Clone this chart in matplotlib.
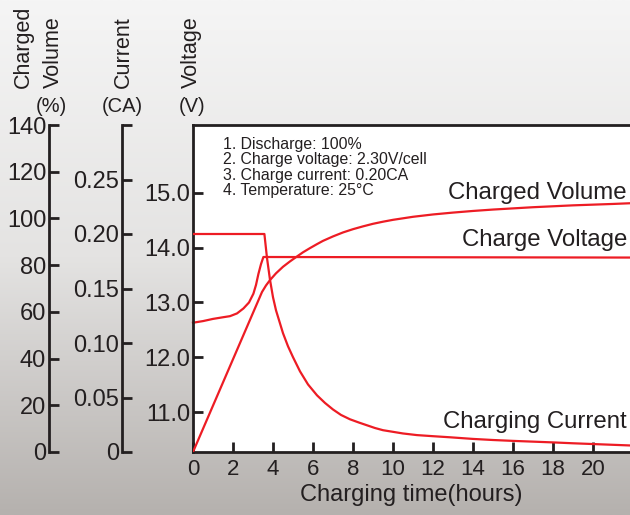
import numpy as np
import matplotlib
matplotlib.use("Agg")
import matplotlib.pyplot as plt
from matplotlib.colors import LinearSegmentedColormap

plt.rcParams['font.family'] = ['Liberation Sans', 'DejaVu Sans']

# values
hours_ticks = [0, 2, 4, 6, 8, 10, 12, 14, 16, 18, 20]

volume_ticks = [0, 20, 40, 60, 80, 100, 120, 140]
volume_labels = ['0', '20', '40', '60', '80', '100', '120', '140']

current_ticks = [0, 0.05, 0.10, 0.15, 0.20, 0.25, 0.30]
current_labels = ['0', '0.05', '0.10', '0.15', '0.20', '0.25', '']

voltage_ticks = [11.0, 12.0, 13.0, 14.0, 15.0]
voltage_labels = ['11.0', '12.0', '13.0', '14.0', '15.0']

t_volume = [0, 3.45, 3.65, 3.85, 4.15, 4.5, 4.85, 5.18, 5.5, 5.85, 6.2, 6.5, 7.0,
            7.5, 8.0, 8.5, 9.0, 9.5, 10.0, 11.0, 12.0, 13.0, 14.0, 15.0, 16.0,
            17.0, 18.0, 19.0, 20.0, 21.0, 21.85]
volume = [0, 68.5, 71.3, 73.6, 76.5, 79.3, 81.6, 83.6, 85.5, 87.3, 89.0, 90.4, 92.3,
          94.0, 95.4, 96.6, 97.7, 98.6, 99.4, 100.7, 101.7, 102.5, 103.2, 103.8,
          104.3, 104.8, 105.2, 105.6, 105.9, 106.2, 106.5]

t_voltage = [0, 0.5, 1.0, 1.5, 1.85, 2.2, 2.52, 2.8, 3.02, 3.15, 3.27, 3.4, 3.52, 21.85]
voltage = [12.63, 12.66, 12.70, 12.73, 12.75, 12.80, 12.89, 13.00, 13.16, 13.32, 13.52,
           13.70, 13.83, 13.82]

t_current = [0, 3.57, 3.7, 3.85, 4.0, 4.15, 4.35, 4.5, 4.75, 5.0, 5.35, 5.75, 6.2,
             6.6, 7.0, 7.4, 7.85, 8.3, 8.7, 9.1, 9.5, 10.0, 10.5, 11.2, 12.0, 12.85,
             14.0, 15.0, 16.0, 17.0, 18.0, 19.0, 20.0, 21.0, 21.85]
current = [0.20, 0.20, 0.178, 0.158, 0.142, 0.130, 0.118, 0.109, 0.097, 0.087, 0.074,
           0.062, 0.052, 0.045, 0.039, 0.034, 0.030, 0.027, 0.0245, 0.022, 0.020,
           0.0185, 0.017, 0.0155, 0.0145, 0.0135, 0.012, 0.011, 0.0102, 0.0095,
           0.0088, 0.008, 0.0073, 0.0066, 0.006]

conditions = ['1. Discharge: 100%', '2. Charge voltage: 2.30V/cell',
              '3. Charge current: 0.20CA', '4. Temperature: 25°C']

RED = '#ed1c24'
INK = '#231f20'
W, H = 630, 515

fig = plt.figure(figsize=(6.3, 5.15), dpi=100)

# grey gradient background
bg = fig.add_axes([0, 0, 1, 1], zorder=-10)
cmap = LinearSegmentedColormap.from_list('bg', ['#f5f5f5', '#e4e3e2', '#b5b1ae'])
bg.imshow(np.linspace(0, 1, 256).reshape(-1, 1), cmap=cmap, aspect='auto',
          extent=[0, 1, 0, 1])
bg.set_axis_off()

pos = [193 / W, 1 - 452 / H, (W - 193) / W, 327 / H]

ax = fig.add_axes(pos)
ax.set_facecolor('white')
ax.set_xlim(0, 21.85)
ax.set_ylim(10.27, 16.24)
ax.spines['right'].set_visible(False)
for s in ['left', 'top', 'bottom']:
    ax.spines[s].set_color(INK)
    ax.spines[s].set_linewidth(2)
ax.set_xticks(hours_ticks)
ax.set_xticklabels([str(h) for h in hours_ticks])
ax.set_yticks(voltage_ticks)
ax.set_yticklabels(voltage_labels)
ax.tick_params(axis='both', direction='in', length=7, width=2, color=INK,
               labelcolor=INK)
ax.tick_params(axis='y', pad=2, labelsize=17)
ax.tick_params(axis='x', pad=5, labelsize=16)
ax.set_xlabel('Charging time(hours)', fontsize=17, color=INK, labelpad=3)
ax.plot(t_voltage, voltage, color=RED, lw=1.6, clip_on=False)

ax_pct = fig.add_axes(pos, sharex=ax)
ax_pct.patch.set_visible(False)
ax_pct.set_ylim(0, 140)
ax_ca = fig.add_axes(pos, sharex=ax)
ax_ca.patch.set_visible(False)
ax_ca.set_ylim(0, 0.30)

for a, off, ticks, labels in [(ax_pct, 144, volume_ticks, volume_labels),
                              (ax_ca, 71, current_ticks, current_labels)]:
    for s in ['right', 'top', 'bottom']:
        a.spines[s].set_visible(False)
    a.spines['left'].set_position(('outward', off * 0.72))
    a.spines['left'].set_color(INK)
    a.spines['left'].set_linewidth(2)
    a.set_yticks(ticks)
    a.set_yticklabels(labels)
    a.tick_params(axis='y', direction='in', length=7, width=2, color=INK,
                  labelsize=17, labelcolor=INK, pad=2)
    a.tick_params(axis='x', bottom=False, labelbottom=False)

ax_pct.plot(t_volume, volume, color=RED, lw=1.6)
ax_ca.plot(t_current, current, color=RED, lw=1.6)

# axis titles
def ftxt(x, y, s, **kw):
    fig.text(x / W, 1 - y / H, s, color=INK, **kw)

ftxt(23, 88, 'Charged', fontsize=15.5, rotation=90, ha='center', va='bottom')
ftxt(53, 88, 'Volume', fontsize=15.5, rotation=90, ha='center', va='bottom')
ftxt(123, 88, 'Current', fontsize=15.5, rotation=90, ha='center', va='bottom')
ftxt(191, 88, 'Voltage', fontsize=15.5, rotation=90, ha='center', va='bottom')
ftxt(51, 106, '(%)', fontsize=14.5, ha='center', va='center')
ftxt(122, 106, '(CA)', fontsize=14.5, ha='center', va='center')
ftxt(192, 106, '(V)', fontsize=14.5, ha='center', va='center')

# curve names
ftxt(627, 193, 'Charged Volume', fontsize=17.3, ha='right', va='center')
ftxt(627, 240, 'Charge Voltage', fontsize=17.3, ha='right', va='center')
ftxt(627, 422, 'Charging Current', fontsize=17.3, ha='right', va='center')

# test conditions
for i, line in enumerate(conditions):
    ftxt(223, 144 + i * 15.5, line, fontsize=11.4, ha='left', va='center')

fig.savefig('out.png', dpi=100)
